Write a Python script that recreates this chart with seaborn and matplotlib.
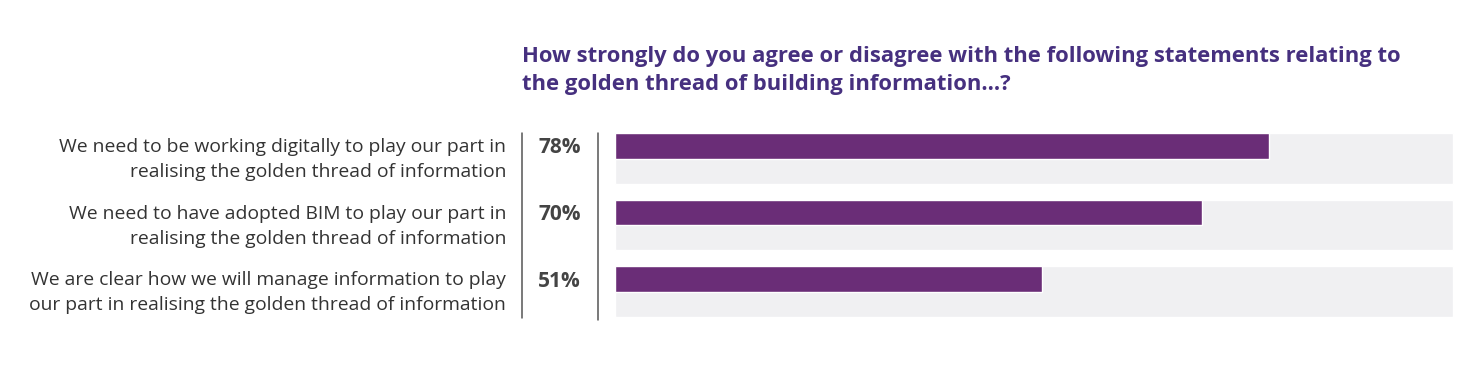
import numpy as np
import pandas as pd
import matplotlib
matplotlib.use("Agg")
import matplotlib.pyplot as plt
import matplotlib.transforms as mtransforms
from matplotlib.lines import Line2D
import seaborn as sns

# ---- data ----
categories = [
    "We need to be working digitally to play our part in\nrealising the golden thread of information",
    "We need to have adopted BIM to play our part in\nrealising the golden thread of information",
    "We are clear how we will manage information to play\nour part in realising the golden thread of information",
]
values = [78, 70, 51]
value_labels = ["78%", "70%", "51%"]
full_scale = [100, 100, 100]
title = ("How strongly do you agree or disagree with the following statements relating to\n"
         "the golden thread of building information...?")

PURPLE = "#6A2D77"
BAND = "#F0F0F2"
TITLE_C = "#46307F"
TEXT_C = "#333333"

sns.set_style("white")
plt.rcParams["font.family"] = ["Open Sans", "DejaVu Sans"]

W, H = 1483, 372
fig = plt.figure(figsize=(W / 100, H / 100), dpi=100)
fig.patch.set_facecolor("white")

# axes spanning the bar area
ax = fig.add_axes([615 / W, 1 - 317 / H, (1458 - 615) / W, (317 - 133) / H])

pos = np.arange(len(categories), dtype=float)
bar_h = 0.39
band_h = 0.765
df_band = pd.DataFrame({"v": full_scale, "y": pos})
df_bar = pd.DataFrame({"v": values, "y": pos - (band_h - bar_h) / 2})

sns.barplot(data=df_band, x="v", y="y", orient="h", native_scale=True,
            width=band_h, color=BAND, saturation=1, ax=ax, zorder=1)
sns.barplot(data=df_bar, x="v", y="y", orient="h", native_scale=True,
            width=bar_h, color=PURPLE, saturation=1, ax=ax, zorder=2)

ax.set_xlim(0, 100.6)
ax.set_ylim(pos[-1] + band_h / 2, pos[0] - band_h / 2)
ax.axis("off")

# labels
tr = mtransforms.blended_transform_factory(fig.transFigure, ax.transData)
for i, (cat, lab) in enumerate(zip(categories, value_labels)):
    fig.text(506 / W, pos[i] + 0.02, cat, transform=tr, ha="right", va="center",
             fontsize=13.9, color=TEXT_C, linespacing=1.5)
    fig.text(581 / W, df_bar["y"][i] + 0.03, lab, transform=tr, ha="right",
             va="center", fontsize=15, color="#444444", fontweight="bold")

# separators
for x, y0, y1 in [(522, 133, 318), (598, 133, 320)]:
    fig.add_artist(Line2D([x / W, x / W], [1 - y0 / H, 1 - y1 / H],
                          transform=fig.transFigure, color="#555555", lw=1.1))

fig.text(522 / W, 1 - 46 / H, title, ha="left", va="top", fontsize=15.8,
         fontweight="bold", color=TITLE_C, linespacing=1.45)

fig.savefig("out.png", dpi=100, facecolor="white")
